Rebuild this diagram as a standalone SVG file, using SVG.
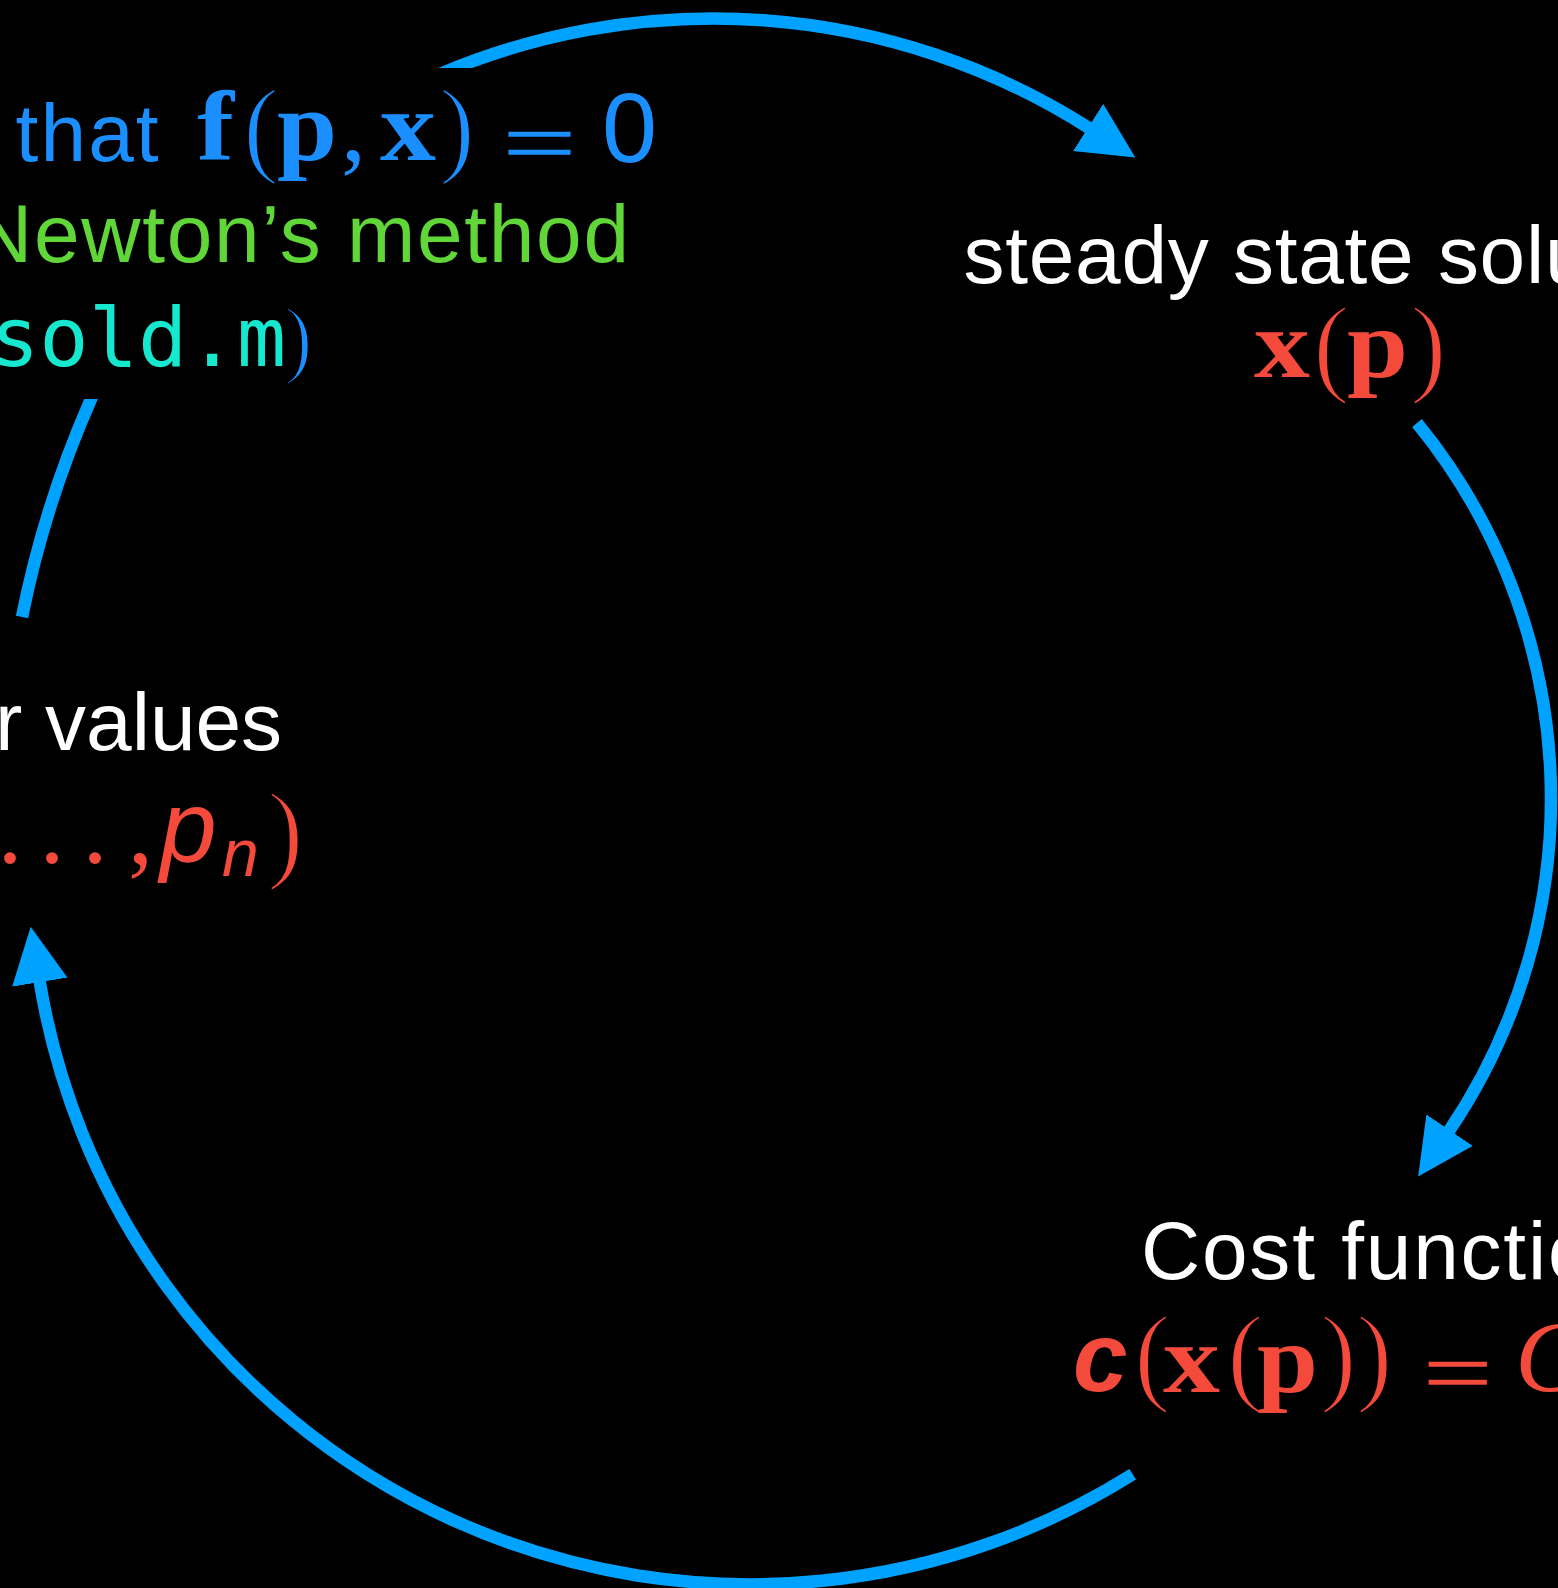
<svg xmlns="http://www.w3.org/2000/svg" width="1558" height="1588" viewBox="0 0 1558 1588">
  <style>
    .arc { fill: none; stroke: #00a2ff; stroke-width: 12.5; }
    .sans { font-family: "Liberation Sans", Arial, sans-serif; }
    .serif { font-family: "Liberation Serif", "Times New Roman", serif; }
    .bold { font-weight: bold; }
    .ital { font-style: italic; }
    .mono { font-family: "DejaVu Sans Mono", "Liberation Mono", monospace; }
    .eq { font-family: "DejaVu Sans", sans-serif; }
    .thin { stroke: #000000; stroke-width: 2.5; }
    .white { fill: #ffffff; }
    .blue { fill: #1b8fff; }
    .red { fill: #f44a3c; }
    .green { fill: #60d638; }
    .teal { fill: #16e7cf; }
  </style>
  <defs>
    <marker id="ah" markerUnits="userSpaceOnUse" markerWidth="56" markerHeight="56" viewBox="0 0 54 54" refX="1" refY="27" orient="auto">
      <path d="M0 0 L54 27 L0 54 Z" fill="#00a2ff"/>
    </marker>
    <clipPath id="clipTop">
      <rect x="0" y="0" width="1558" height="68"/>
      <rect x="560" y="0" width="998" height="260"/>
    </clipPath>
    <clipPath id="clipLeft">
      <rect x="0" y="399" width="300" height="300"/>
    </clipPath>
  </defs>
  <rect x="0" y="0" width="1558" height="1588" fill="#000000"/>

  <g id="connectors">
    <path class="arc" clip-path="url(#clipTop)" d="M 426.4 80 A 699 699 0 0 1 1089 128" marker-end="url(#ah)"/>
    <path class="arc" d="M 1417 423 A 593 593 0 0 1 1449 1131" marker-end="url(#ah)"/>
    <path class="arc" d="M 1132.7 1474.3 A 720 720 0 0 1 39.6 981.1" marker-end="url(#ah)"/>
    <path class="arc" clip-path="url(#clipLeft)" d="M 22 617 A 1050 1050 0 0 1 96 388"/>
  </g>

  <g id="node-solve">
    <text class="sans blue" x="15.6" y="161" font-size="82" textLength="143">that</text>
    <text class="serif bold blue" x="197" y="160" font-size="100" textLength="37" lengthAdjust="spacingAndGlyphs">f</text>
    <text class="serif blue thin" x="243" y="163" font-size="108">(</text>
    <text class="serif bold blue" x="277" y="160" font-size="100" textLength="60" lengthAdjust="spacingAndGlyphs">p</text>
    <text class="serif blue" x="341" y="160" font-size="100">,</text>
    <text class="serif bold blue" x="380" y="160" font-size="100" textLength="56" lengthAdjust="spacingAndGlyphs">x</text>
    <text class="serif blue thin" x="439" y="163" font-size="108">)</text>
    <text class="eq blue thin" x="496" y="172" font-size="90" textLength="87" lengthAdjust="spacingAndGlyphs">=</text>
    <text class="sans blue" x="602" y="162" font-size="99">0</text>
    <text class="sans green" x="-27" y="262" font-size="82" textLength="656">Newton’s method</text>
    <text class="mono teal" x="-10" y="366" font-size="82">sold.m</text>
    <text class="serif blue thin" x="284" y="367" font-size="86">)</text>
  </g>

  <g id="node-steady">
    <text class="sans white" x="963.5" y="283" font-size="82" textLength="627">steady state solu</text>
    <text class="serif bold red" x="1254" y="377" font-size="98" textLength="56" lengthAdjust="spacingAndGlyphs">x</text>
    <text class="serif red thin" x="1313" y="382" font-size="110">(</text>
    <text class="serif bold red" x="1347" y="377" font-size="98" textLength="61" lengthAdjust="spacingAndGlyphs">p</text>
    <text class="serif red thin" x="1410" y="382" font-size="110">)</text>
  </g>

  <g id="node-params">
    <text class="sans white" x="-5" y="750" font-size="82">r values</text>
    <text class="serif red" x="-2.5" y="863" font-size="100">.</text>
    <text class="serif red" x="39.5" y="863" font-size="100">.</text>
    <text class="serif red" x="82.5" y="863" font-size="100">.</text>
    <text class="serif red" x="128" y="863" font-size="100">,</text>
    <text class="sans ital red" x="160" y="862" font-size="102">p</text>
    <text class="sans ital red" x="222" y="876" font-size="66">n</text>
    <text class="serif red thin" x="267" y="868" font-size="110">)</text>
  </g>

  <g id="node-cost">
    <text class="sans white" x="1141" y="1279" font-size="82" textLength="452.5">Cost functio</text>
    <text class="sans bold ital red" x="1073" y="1391" font-size="98">c</text>
    <text class="serif red thin" x="1134" y="1391" font-size="110">(</text>
    <text class="serif bold red" x="1163" y="1392" font-size="98" textLength="57" lengthAdjust="spacingAndGlyphs">x</text>
    <text class="serif red thin" x="1227" y="1391" font-size="110">(</text>
    <text class="serif bold red" x="1257" y="1392" font-size="98" textLength="61" lengthAdjust="spacingAndGlyphs">p</text>
    <text class="serif red thin" x="1320" y="1391" font-size="110">)</text>
    <text class="serif red thin" x="1356" y="1391" font-size="110">)</text>
    <text class="eq red thin" x="1417" y="1402" font-size="91" textLength="81.5" lengthAdjust="spacingAndGlyphs">=</text>
    <text class="serif ital red" x="1515" y="1392" font-size="102">C</text>
  </g>
</svg>
